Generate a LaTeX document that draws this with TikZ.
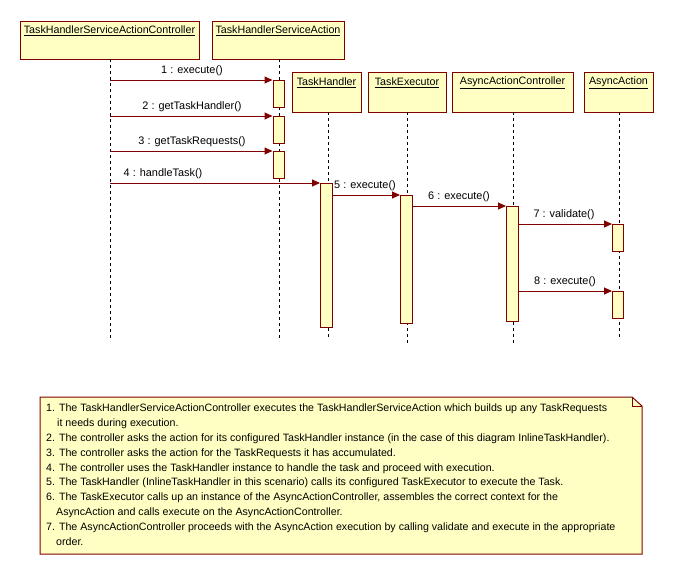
\documentclass[tikz,border=0pt]{standalone}
\usepackage{fontspec}
\setmainfont{Liberation Sans}
\usetikzlibrary{arrows.meta}
\definecolor{umlred}{RGB}{128,0,0}
\definecolor{umlfill}{RGB}{255,255,196}
\tikzset{
  objbox/.style={draw=umlred, fill=umlfill, line width=1pt},
  actbox/.style={draw=umlred, fill=umlfill, line width=1pt},
  life/.style={black, line width=0.8pt, dash pattern=on 3pt off 3pt},
  msg/.style={umlred, line width=1pt, -{Triangle[length=8pt,width=7pt]}},
  lbl/.style={font=\fontsize{10.9}{12}\selectfont, inner sep=0pt},
  hdr/.style={font=\fontsize{10.7}{12}\selectfont, inner sep=0pt},
  notetxt/.style={font=\fontsize{10.65}{12}\selectfont, inner sep=0pt, anchor=base west}
}
\begin{document}
\begin{tikzpicture}[x=1pt,y=-1pt]
\useasboundingbox (0,0) rectangle (673,576);
\fill[white] (0,0) rectangle (673,576);
% object boxes
\draw[objbox] (20,21) rectangle (199,59);
\node[hdr] (h1) at (109.5,31) {\underline{TaskHandlerServiceActionController}};
\draw[objbox] (212,21) rectangle (344,59);
\node[hdr] (h2) at (278,31) {\underline{TaskHandlerServiceAction}};
\draw[objbox] (292,72) rectangle (361,112);
\node[hdr] (h3) at (326.5,83) {\underline{TaskHandler}};
\draw[objbox] (368,72) rectangle (446,112);
\node[hdr] (h4) at (407,83) {\underline{TaskExecutor}};
\draw[objbox] (452,72) rectangle (573,112);
\node[hdr] (h5) at (512.5,83) {\underline{AsyncActionController}};
\draw[objbox] (584,72) rectangle (653,112);
\node[hdr] (h6) at (618.5,83) {\underline{AsyncAction}};
% lifelines
\draw[life] (110,59) -- (110,341);
\draw[life] (279,59) -- (279,341);
\draw[life] (328,112) -- (328,338);
\draw[life] (407,112) -- (407,343);
\draw[life] (513,112) -- (513,343);
\draw[life] (619,112) -- (619,338);
% activations
\node[actbox, minimum width=11pt, minimum height=27pt, inner sep=0pt, anchor=north] (a1) at (278.5,80) {};
\node[actbox, minimum width=11pt, minimum height=27pt, inner sep=0pt, anchor=north] (a2) at (278.5,116) {};
\node[actbox, minimum width=11pt, minimum height=27pt, inner sep=0pt, anchor=north] (a3) at (278.5,151) {};
\node[actbox, minimum width=12pt, minimum height=144pt, inner sep=0pt, anchor=north] (b1) at (326.5,183) {};
\node[actbox, minimum width=12pt, minimum height=128pt, inner sep=0pt, anchor=north] (c1) at (406.5,195) {};
\node[actbox, minimum width=12pt, minimum height=115pt, inner sep=0pt, anchor=north] (d1) at (512.5,206) {};
\node[actbox, minimum width=11pt, minimum height=27pt, inner sep=0pt, anchor=north] (e1) at (618,224) {};
\node[actbox, minimum width=11pt, minimum height=27pt, inner sep=0pt, anchor=north] (e2) at (618,291) {};
% message sources
\coordinate (s1) at (110,80);
\coordinate (s2) at (110,116);
\coordinate (s3) at (110,151);
\coordinate (s4) at (110,183);
% messages
\draw[msg] (s1) -- (a1.north west);
\node[lbl] (m1) at (192,71) {1 : execute()};
\draw[msg] (s2) -- (a2.north west);
\node[lbl] (m2) at (192,107) {2 : getTaskHandler()};
\draw[msg] (s3) -- (a3.north west);
\node[lbl] (m3) at (192,142) {3 : getTaskRequests()};
\draw[msg] (s4) -- (b1.north west);
\node[lbl] (m4) at (163,174) {4 : handleTask()};
\draw[msg] (b1.east |- c1.north) -- (c1.north west);
\node[lbl, anchor=west] (m5) at (334,186) {5 : execute()};
\draw[msg] (c1.east |- d1.north) -- (d1.north west);
\node[lbl] (m6) at (459,197) {6 : execute()};
\draw[msg] (d1.east |- e1.north) -- (e1.north west);
\node[lbl] (m7) at (564,215) {7 : validate()};
\draw[msg] (d1.east |- e2.north) -- (e2.north west);
\node[lbl] (m8) at (565,282) {8 : execute()};
% note
\draw[objbox] (40,397) -- (632,397) -- (642,406) -- (642,554) -- (40,554) -- cycle;
\draw[umlred, line width=0.6pt] (632,397) -- (632,406) -- (642,406);
\node[notetxt] (n1) at (46,411) {1. The TaskHandlerServiceActionController executes the TaskHandlerServiceAction which builds up any TaskRequests};
\node[notetxt] (n1b) at (57,426) {it needs during execution.};
\node[notetxt] (n2) at (46,441) {2. The controller asks the action for its configured TaskHandler instance (in the case of this diagram InlineTaskHandler).};
\node[notetxt] (n3) at (46,456) {3. The controller asks the action for the TaskRequests it has accumulated.};
\node[notetxt] (n4) at (46,471) {4. The controller uses the TaskHandler instance to handle the task and proceed with execution.};
\node[notetxt] (n5) at (46,485) {5. The TaskHandler (InlineTaskHandler in this scenario) calls its configured TaskExecutor to execute the Task.};
\node[notetxt] (n6) at (46,500) {6. The TaskExecutor calls up an instance of the AsyncActionController, assembles the correct context for the};
\node[notetxt] (n6b) at (56,515) {AsyncAction and calls execute on the AsyncActionController.};
\node[notetxt] (n7) at (46,530) {7. The AsyncActionController proceeds with the AsyncAction execution by calling validate and execute in the appropriate};
\node[notetxt] (n7b) at (56,545) {order.};
\end{tikzpicture}
\end{document}
